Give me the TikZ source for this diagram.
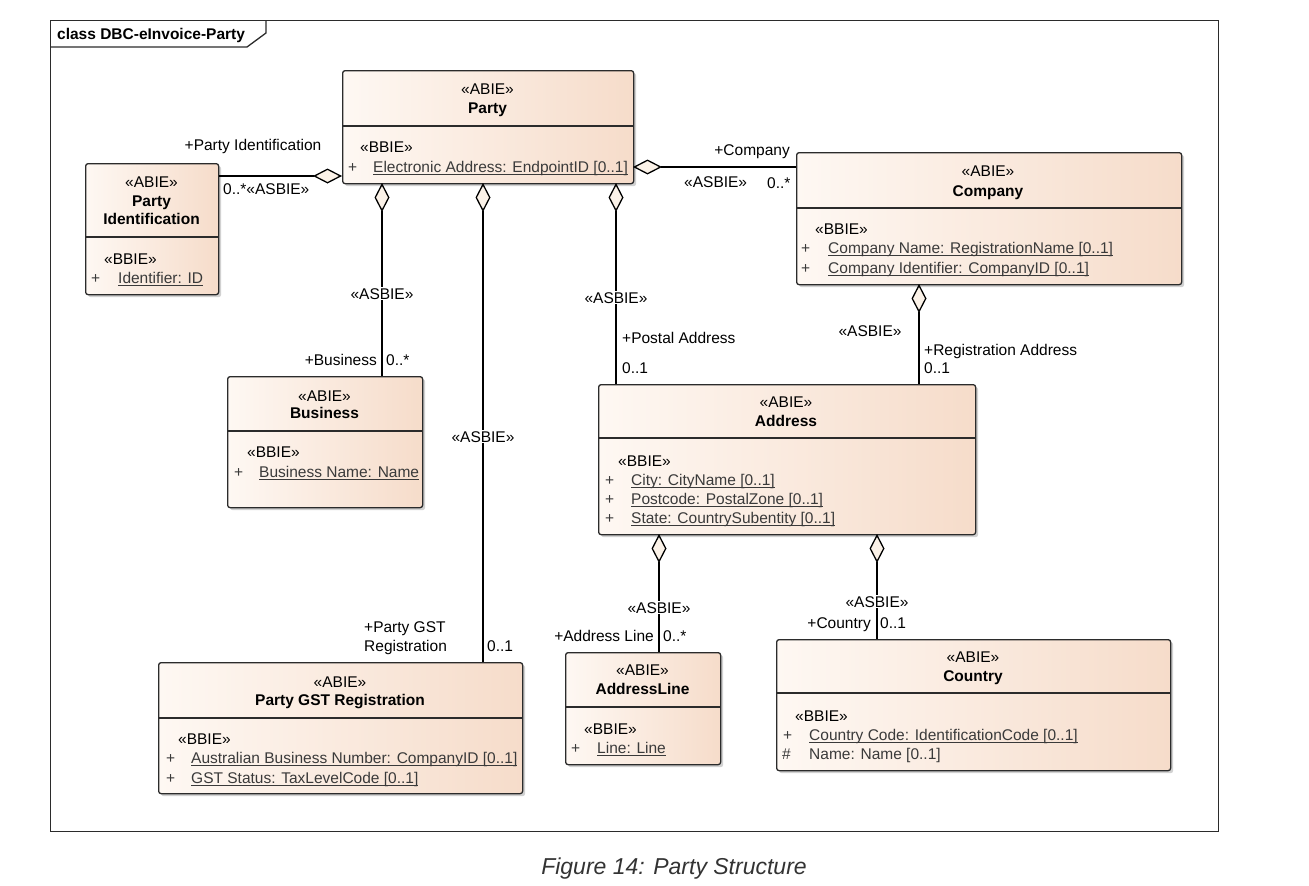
\documentclass[tikz,border=0pt]{standalone}
\usepackage{fontspec}
\setmainfont{Liberation Sans}
\usetikzlibrary{shadows,arrows.meta}
\definecolor{boxL}{HTML}{FEF8F3}
\definecolor{boxR}{HTML}{F6DCCA}
\definecolor{dia}{HTML}{FBF2E8}
\definecolor{edge}{HTML}{2B2B2B}
\definecolor{attrc}{HTML}{3A3A3A}
\definecolor{capc}{HTML}{333333}
\newcommand\myul[1]{\setbox0\hbox{#1}\rlap{\rule[-3pt]{\wd0}{0.8pt}}\box0}
\begin{document}
\begin{tikzpicture}[x=1pt,y=-1pt,
  every node/.style={font=\fontsize{15.5}{19}\selectfont, inner sep=0pt, text=black},
  umlbox/.style={draw=edge, line width=1.3pt, rounded corners=2.5pt, left color=boxL, right color=boxR,
    anchor=north west, drop shadow={shadow xshift=2.5pt, shadow yshift=-2.5pt, fill=black!40, opacity=0.45}},
  divider/.style={draw=edge, line width=1.3pt},
  ctext/.style={anchor=base},
  ltext/.style={anchor=base west},
  rtext/.style={anchor=base east},
  ttext/.style={anchor=base, font=\fontsize{15.5}{19}\selectfont\bfseries},
  atext/.style={anchor=base west, text=attrc},
  lab/.style={anchor=base, fill=white, inner sep=1pt},
  agg/.style={draw=black, line width=1.3pt, {Diamond[length=29pt,width=15pt,fill=dia]}-},
]
\useasboundingbox (0,0) rectangle (1309,886);

% frame
\node[draw=edge, line width=1.3pt, anchor=north west, minimum width=1168pt, minimum height=811pt] (frame) at (50,20) {};
\draw[draw=edge, line width=1.3pt] (50,47) -- (247,47) -- (266,33) -- (266,20);
\node[ltext, font=\fontsize{15.5}{19}\selectfont\bfseries] (ftitle) at (57,39) {class DBC-eInvoice-Party};

% Party
\node[umlbox, minimum width=291pt, minimum height=113pt] (party) at (342,70) {};
\draw[divider] (342,126) -- (633,126);
\node[ctext] (partyS) at (487.5,94) {«ABIE»};
\node[ttext] (partyN) at (487.5,113) {Party};
\node[ltext] (partyB) at (360,152) {«BBIE»};
\node[atext] (partyP1) at (348,172) {+};
\node[atext] (partyA1) at (373,172) {\myul{Electronic Address: EndpointID [0..1]}};

% Party Identification
\node[umlbox, minimum width=133pt, minimum height=131pt] (pid) at (85,163) {};
\draw[divider] (85,237) -- (218,237);
\node[ctext] (pidS) at (151.5,187) {«ABIE»};
\node[ttext] (pidN1) at (151.5,206) {Party};
\node[ttext] (pidN2) at (151.5,224) {Identification};
\node[ltext] (pidB) at (104,264) {«BBIE»};
\node[atext] (pidP1) at (91,283) {+};
\node[atext] (pidA1) at (118,283) {\myul{Identifier: ID}};

% Company
\node[umlbox, minimum width=385pt, minimum height=132pt] (company) at (796,152) {};
\draw[divider] (796,208) -- (1181,208);
\node[ctext] (compS) at (988,176) {«ABIE»};
\node[ttext] (compN) at (988,196) {Company};
\node[ltext] (compB) at (815,234) {«BBIE»};
\node[atext] (compP1) at (801,253) {+};
\node[atext] (compA1) at (828,253) {\myul{Company Name: RegistrationName [0..1]}};
\node[atext] (compP2) at (801,273) {+};
\node[atext] (compA2) at (828,273) {\myul{Company Identifier: CompanyID [0..1]}};

% Address
\node[umlbox, minimum width=377pt, minimum height=150pt] (address) at (598,384) {};
\draw[divider] (598,438) -- (975,438);
\node[ctext] (addrS) at (786,407) {«ABIE»};
\node[ttext] (addrN) at (786,426) {Address};
\node[ltext] (addrB) at (618,466) {«BBIE»};
\node[atext] (addrP1) at (605,485) {+};
\node[atext] (addrA1) at (631,485) {\myul{City: CityName [0..1]}};
\node[atext] (addrP2) at (605,504) {+};
\node[atext] (addrA2) at (631,504) {\myul{Postcode: PostalZone [0..1]}};
\node[atext] (addrP3) at (605,523) {+};
\node[atext] (addrA3) at (631,523) {\myul{State: CountrySubentity [0..1]}};

% Business
\node[umlbox, minimum width=195pt, minimum height=131pt] (business) at (227,376) {};
\draw[divider] (227,431) -- (422,431);
\node[ctext] (busS) at (324.5,401) {«ABIE»};
\node[ttext] (busN) at (324.5,418) {Business};
\node[ltext] (busB) at (247,457) {«BBIE»};
\node[atext] (busP1) at (234,477) {+};
\node[atext] (busA1) at (259,477) {\myul{Business Name: Name}};

% Party GST Registration
\node[umlbox, minimum width=364pt, minimum height=131pt] (pgr) at (158,662) {};
\draw[divider] (158,718) -- (522,718);
\node[ctext] (pgrS) at (340,687) {«ABIE»};
\node[ttext] (pgrN) at (340,705) {Party GST Registration};
\node[ltext] (pgrB) at (178,744) {«BBIE»};
\node[atext] (pgrP1) at (166,763) {+};
\node[atext] (pgrA1) at (191,763) {\myul{Australian Business Number: CompanyID [0..1]}};
\node[atext] (pgrP2) at (166,783) {+};
\node[atext] (pgrA2) at (191,783) {\myul{GST Status: TaxLevelCode [0..1]}};

% AddressLine
\node[umlbox, minimum width=155pt, minimum height=112pt] (aline) at (565,652) {};
\draw[divider] (565,707) -- (720,707);
\node[ctext] (alS) at (642.5,675) {«ABIE»};
\node[ttext] (alN) at (642.5,694) {AddressLine};
\node[ltext] (alB) at (584,734) {«BBIE»};
\node[atext] (alP1) at (571,753) {+};
\node[atext] (alA1) at (597,753) {\myul{Line: Line}};

% Country
\node[umlbox, minimum width=394pt, minimum height=131pt] (country) at (776,639) {};
\draw[divider] (776,693) -- (1170,693);
\node[ctext] (ctyS) at (973,662) {«ABIE»};
\node[ttext] (ctyN) at (973,681) {Country};
\node[ltext] (ctyB) at (795,721) {«BBIE»};
\node[atext] (ctyP1) at (783,740) {+};
\node[atext] (ctyA1) at (809,740) {\myul{Country Code: IdentificationCode [0..1]}};
\node[atext] (ctyP2) at (782,759) {\#};
\node[atext] (ctyA2) at (809,759) {Name: Name [0..1]};

% connector anchor points on box edges
\coordinate (cPid) at (342,176);
\coordinate (cComp) at (633,167);
\coordinate (cBus) at (382,183);
\coordinate (cPgr) at (483,183);
\coordinate (cPost) at (616,183);
\coordinate (cReg) at (919,284);
\coordinate (cAl) at (659,534);
\coordinate (cCty) at (877,534);

% connectors
\draw[agg] (cPid) -- (pid.east |- cPid);
\draw[agg] (cComp) -- (company.west |- cComp);
\draw[agg] (cBus) -- (business.north -| cBus);
\draw[agg] (cPgr) -- (pgr.north -| cPgr);
\draw[agg] (cPost) -- (address.north -| cPost);
\draw[agg] (cReg) -- (address.north -| cReg);
\draw[agg] (cAl) -- (aline.north -| cAl);
\draw[agg] (cCty) -- (country.north -| cCty);

% connector labels
\node[ctext] (l1a) at (253,150) {+Party Identification};
\node[ltext] (l1b) at (223,194) {0..*«ASBIE»};

\node[rtext] (l2a) at (790,155) {+Company};
\node[ltext] (l2b) at (684,187) {«ASBIE»};
\node[ltext] (l2c) at (767,188) {0..*};

\node[lab] (l3a) at (382,299) {«ASBIE»};
\node[rtext] (l3b) at (377,365) {+Business};
\node[ltext] (l3c) at (386,365) {0..*};

\node[lab] (l4a) at (483,442) {«ASBIE»};
\node[ltext] (l4b) at (364,632) {+Party GST};
\node[ltext] (l4c) at (364,651) {Registration};
\node[ltext] (l4d) at (487,651) {0..1};

\node[lab] (l5a) at (616,303) {«ASBIE»};
\node[ltext] (l5b) at (622,343) {+Postal Address};
\node[ltext] (l5c) at (622,373) {0..1};

\node[ctext] (l6a) at (870,336) {«ASBIE»};
\node[ltext] (l6b) at (924,355) {+Registration Address};
\node[ltext] (l6c) at (924,373) {0..1};

\node[lab] (l7a) at (659,613) {«ASBIE»};
\node[rtext] (l7b) at (654,641) {+Address Line};
\node[ltext] (l7c) at (663,641) {0..*};

\node[lab] (l8a) at (877,607) {«ASBIE»};
\node[rtext] (l8b) at (871,628) {+Country};
\node[ltext] (l8c) at (880,628) {0..1};

% caption
\node[anchor=base, font=\fontsize{23}{28}\selectfont\itshape, text=capc] (caption) at (674,874) {Figure 14: Party Structure};
\end{tikzpicture}
\end{document}
